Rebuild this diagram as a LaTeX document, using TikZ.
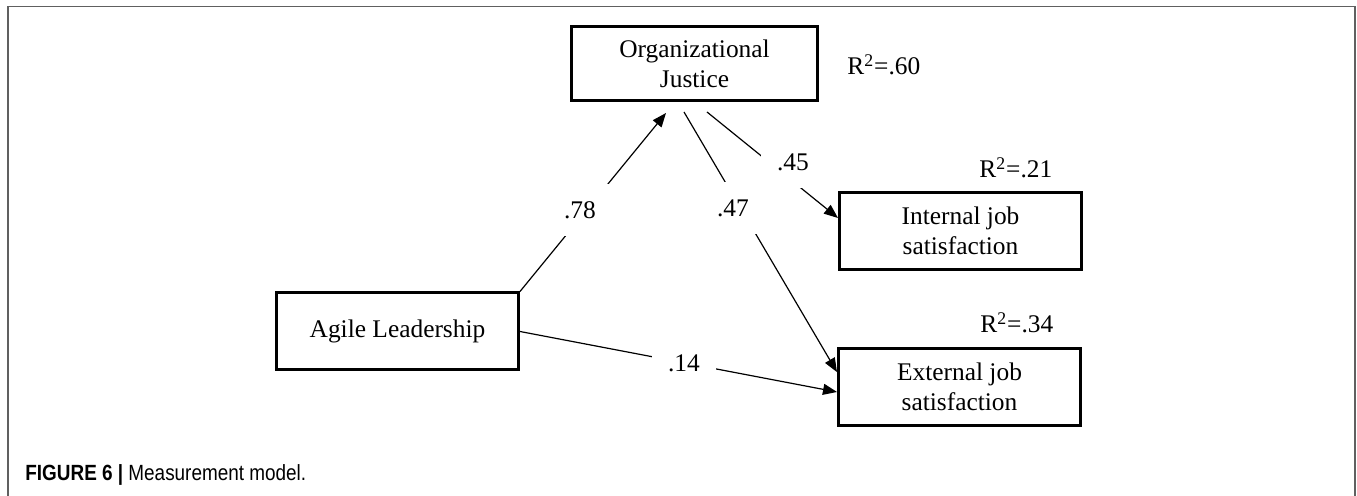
\documentclass[tikz,border=0pt]{standalone}
\usepackage{fontspec}
\setmainfont{Liberation Serif}
\newfontfamily\capfont[FakeStretch=0.86]{Liberation Sans}
\usepackage{tikz}
\usetikzlibrary{positioning,arrows.meta}
\tikzset{
	construct/.style={draw, line width=1.5pt, minimum width=121pt, minimum height=38.5pt, inner sep=0pt, align=center, font=\fontsize{12.7}{15}\selectfont},
	link/.style={line width=0.6pt, -{Triangle[length=7pt,width=5.5pt]}},
	coef/.style={fill=white, minimum width=32pt, minimum height=26pt, inner sep=0pt, font=\fontsize{12.7}{15}\selectfont},
	rsq/.style={anchor=base west, inner sep=0pt, font=\fontsize{12.7}{15}\selectfont}
}

\begin{document}
\begin{tikzpicture}[x=0.5pt, y=-0.5pt]
		\useasboundingbox (0,0) rectangle (1357,496);
		\draw[color=gray!75!black, line width=0.8pt] (8,496) -- (8,6.5) -- (1355,6.5) -- (1355,496);
		\node[construct, minimum width=123pt, minimum height=37pt] (oj) at (694.5,63.5) {Organizational\\Justice};
		\node[construct] (ijs) at (960.5,231) {Internal job\\satisfaction};
		\node[construct] (ejs) at (959.5,386.7) {External job\\satisfaction};
		\node[construct] (al) at (397.5,331.5) {Agile Leadership};
		\draw[link] (al.north east) -- ([xshift=-14.25pt,yshift=-5.5pt]oj.south);
		\draw[link] ([xshift=-5.25pt,yshift=-5pt]oj.south) -- ([yshift=7.3pt]ejs.west);
		\draw[link] ([xshift=6.25pt,yshift=-5pt]oj.south) -- ([yshift=6.5pt]ijs.west);
		\draw[link] (al.east) -- ([yshift=-2.65pt]ejs.west);
		\node[coef] (c-al-oj) at (580,210) {.78};
		\node[coef] (c-oj-ejs) at (733,208) {.47};
		\node[coef] (c-oj-ijs) at (793,162) {.45};
		\node[coef] (c-al-ejs) at (684,363) {.14};
		\node[rsq] (r-oj) at (847,75) {R\textsuperscript{2}=.60};
		\node[rsq] (r-ijs) at (979,178) {R\textsuperscript{2}=.21};
		\node[rsq] (r-ejs) at (980,333) {R\textsuperscript{2}=.34};
		\node[anchor=base west, inner sep=0pt, font=\capfont\fontsize{11}{13}\selectfont] (caption) at (25,481) {\textbf{FIGURE 6 |} Measurement model.};
\end{tikzpicture}
\end{document}
